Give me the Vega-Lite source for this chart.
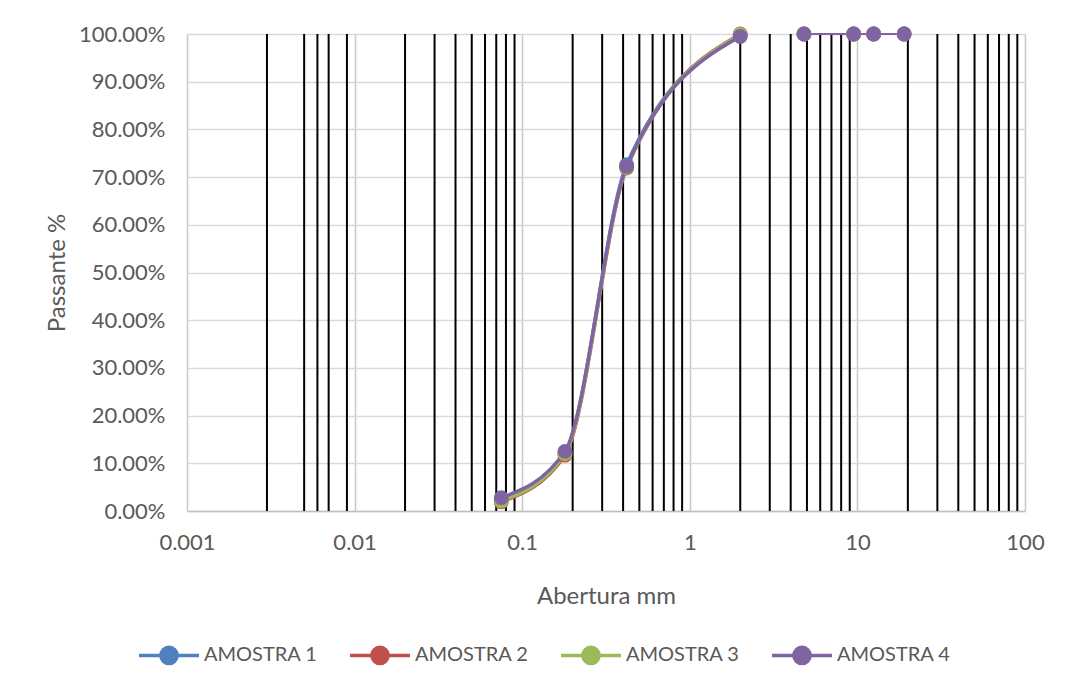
{
  "$schema": "https://vega.github.io/schema/vega-lite/v6.json",
  "autosize": "none",
  "width": 838,
  "height": 477,
  "padding": {"left": 187, "top": 34, "right": 40, "bottom": 178},
  "background": "white",
  "config": {
    "font": "Lato",
    "view": {"stroke": null},
    "axis": {"labelColor": "#595959", "titleColor": "#595959", "labelFontSize": 22, "titleFontSize": 24, "titleFontWeight": "normal", "labelFlush": false},
    "legend": {"labelColor": "#595959", "labelFontSize": 20}
  },
  "datasets": {
    "grade": [
      {"x": 0.003}, {"x": 0.005}, {"x": 0.006}, {"x": 0.007}, {"x": 0.009},
      {"x": 0.02}, {"x": 0.03}, {"x": 0.04}, {"x": 0.05}, {"x": 0.06}, {"x": 0.07}, {"x": 0.08}, {"x": 0.09},
      {"x": 0.2}, {"x": 0.3}, {"x": 0.4}, {"x": 0.5}, {"x": 0.6}, {"x": 0.7}, {"x": 0.8}, {"x": 0.9},
      {"x": 2}, {"x": 3}, {"x": 4}, {"x": 5}, {"x": 6}, {"x": 7}, {"x": 8}, {"x": 9},
      {"x": 20}, {"x": 30}, {"x": 40}, {"x": 50}, {"x": 60}, {"x": 70}, {"x": 80}, {"x": 90}
    ],
    "amostras": [
      {"amostra": "AMOSTRA 1", "abertura": 0.075, "passante": 0.023, "seg": "curva"},
      {"amostra": "AMOSTRA 1", "abertura": 0.18, "passante": 0.122, "seg": "curva"},
      {"amostra": "AMOSTRA 1", "abertura": 0.42, "passante": 0.726, "seg": "curva"},
      {"amostra": "AMOSTRA 1", "abertura": 2.0, "passante": 0.998, "seg": "curva"},
      {"amostra": "AMOSTRA 1", "abertura": 4.8, "passante": 1.0, "seg": "topo"},
      {"amostra": "AMOSTRA 1", "abertura": 9.5, "passante": 1.0, "seg": "topo"},
      {"amostra": "AMOSTRA 1", "abertura": 12.5, "passante": 1.0, "seg": "topo"},
      {"amostra": "AMOSTRA 1", "abertura": 19, "passante": 1.0, "seg": "topo"},
      {"amostra": "AMOSTRA 2", "abertura": 0.075, "passante": 0.019, "seg": "curva"},
      {"amostra": "AMOSTRA 2", "abertura": 0.18, "passante": 0.117, "seg": "curva"},
      {"amostra": "AMOSTRA 2", "abertura": 0.42, "passante": 0.719, "seg": "curva"},
      {"amostra": "AMOSTRA 2", "abertura": 2.0, "passante": 1.0, "seg": "curva"},
      {"amostra": "AMOSTRA 2", "abertura": 4.8, "passante": 1.0, "seg": "topo"},
      {"amostra": "AMOSTRA 2", "abertura": 9.5, "passante": 1.0, "seg": "topo"},
      {"amostra": "AMOSTRA 2", "abertura": 12.5, "passante": 1.0, "seg": "topo"},
      {"amostra": "AMOSTRA 2", "abertura": 19, "passante": 1.0, "seg": "topo"},
      {"amostra": "AMOSTRA 3", "abertura": 0.075, "passante": 0.021, "seg": "curva"},
      {"amostra": "AMOSTRA 3", "abertura": 0.18, "passante": 0.12, "seg": "curva"},
      {"amostra": "AMOSTRA 3", "abertura": 0.42, "passante": 0.72, "seg": "curva"},
      {"amostra": "AMOSTRA 3", "abertura": 2.0, "passante": 0.999, "seg": "curva"},
      {"amostra": "AMOSTRA 3", "abertura": 4.8, "passante": 1.0, "seg": "topo"},
      {"amostra": "AMOSTRA 3", "abertura": 9.5, "passante": 1.0, "seg": "topo"},
      {"amostra": "AMOSTRA 3", "abertura": 12.5, "passante": 1.0, "seg": "topo"},
      {"amostra": "AMOSTRA 3", "abertura": 19, "passante": 1.0, "seg": "topo"},
      {"amostra": "AMOSTRA 4", "abertura": 0.075, "passante": 0.028, "seg": "curva"},
      {"amostra": "AMOSTRA 4", "abertura": 0.18, "passante": 0.125, "seg": "curva"},
      {"amostra": "AMOSTRA 4", "abertura": 0.42, "passante": 0.722, "seg": "curva"},
      {"amostra": "AMOSTRA 4", "abertura": 2.0, "passante": 0.995, "seg": "curva"},
      {"amostra": "AMOSTRA 4", "abertura": 4.8, "passante": 1.0, "seg": "topo"},
      {"amostra": "AMOSTRA 4", "abertura": 9.5, "passante": 1.0, "seg": "topo"},
      {"amostra": "AMOSTRA 4", "abertura": 12.5, "passante": 1.0, "seg": "topo"},
      {"amostra": "AMOSTRA 4", "abertura": 19, "passante": 1.0, "seg": "topo"}
    ]
  },
  "layer": [
    {
      "data": {"name": "grade"},
      "mark": {"type": "rule", "color": "black", "strokeWidth": 2},
      "encoding": {
        "x": {
          "field": "x", "type": "quantitative",
          "scale": {"type": "log", "domain": [0.001, 100], "nice": false},
          "axis": {
            "values": [0.001, 0.01, 0.1, 1, 10, 100],
            "format": "~g",
            "title": "Abertura mm",
            "titlePadding": 31,
            "labelPadding": 21,
            "ticks": false,
            "domainColor": "#bfbfbf",
            "domainWidth": 1.5,
            "gridColor": "#c8c8c8",
            "gridWidth": 1.5
          }
        }
      }
    },
    {
      "data": {"name": "amostras"},
      "transform": [{"filter": "datum.seg === 'curva'"}],
      "mark": {"type": "line", "interpolate": "monotone", "strokeWidth": 3.5},
      "encoding": {
        "x": {"field": "abertura", "type": "quantitative"},
        "y": {
          "field": "passante", "type": "quantitative",
          "scale": {"domain": [0, 1], "nice": false},
          "axis": {
            "values": [0, 0.1, 0.2, 0.3, 0.4, 0.5, 0.6, 0.7, 0.8, 0.9, 1.0],
            "format": ".2%",
            "title": "Passante %",
            "titlePadding": 9,
            "labelPadding": 22,
            "ticks": false,
            "domain": false,
            "gridColor": "#d9d9d9",
            "gridWidth": 1.5
          }
        },
        "color": {
          "field": "amostra", "type": "nominal",
          "scale": {"domain": ["AMOSTRA 1", "AMOSTRA 2", "AMOSTRA 3", "AMOSTRA 4"], "range": ["#4F81BD", "#C0504D", "#9BBB59", "#8064A2"]},
          "legend": {
            "title": null,
            "orient": "none",
            "legendX": -50,
            "legendY": 589,
            "direction": "horizontal",
            "columns": 4,
            "columnPadding": 25,
            "labelOffset": 3,
            "symbolType": "M-1,0H1M0.27,0A0.27,0.27,0,1,1,-0.27,0A0.27,0.27,0,1,1,0.27,0Z",
            "symbolSize": 3600,
            "symbolStrokeWidth": 3.5,
            "encode": {"symbols": {"update": {"fill": {"scale": "color", "field": "value"}, "stroke": {"scale": "color", "field": "value"}, "opacity": {"value": 1}}}}
          }
        }
      }
    },
    {
      "data": {"name": "amostras"},
      "transform": [{"filter": "datum.seg === 'topo'"}],
      "mark": {"type": "line", "strokeWidth": 2},
      "encoding": {
        "x": {"field": "abertura", "type": "quantitative"},
        "y": {"field": "passante", "type": "quantitative"},
        "color": {"field": "amostra", "type": "nominal"}
      }
    },
    {
      "data": {"name": "amostras"},
      "mark": {"type": "point", "shape": "circle", "filled": true, "opacity": 1, "size": 220},
      "encoding": {
        "x": {"field": "abertura", "type": "quantitative"},
        "y": {"field": "passante", "type": "quantitative"},
        "color": {"field": "amostra", "type": "nominal"}
      }
    }
  ]
}
